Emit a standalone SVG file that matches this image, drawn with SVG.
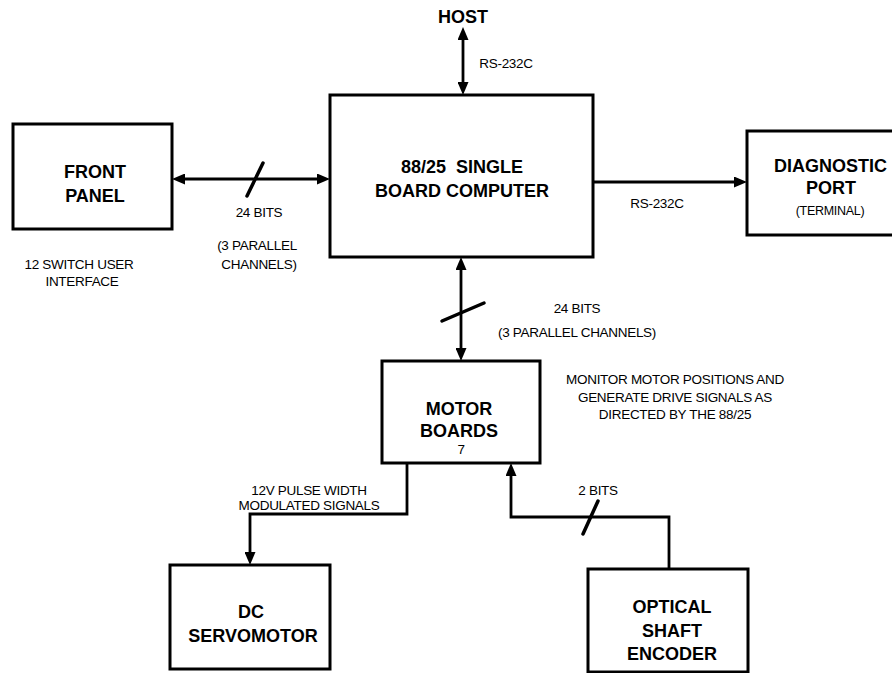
<svg xmlns="http://www.w3.org/2000/svg" width="892" height="673" viewBox="0 0 892 673">
<style>
  .box { fill: #fff; stroke: #000; stroke-width: 3; }
  .conn { fill: none; stroke: #000; stroke-width: 2.8; }
  .slash { fill: none; stroke: #000; stroke-width: 3.5; stroke-linecap: round; }
  .title { font-family: "Liberation Sans", Arial, Helvetica, sans-serif; font-weight: bold; font-size: 18px; fill: #000; text-anchor: middle; }
  .lbl { font-family: "Liberation Sans", Arial, Helvetica, sans-serif; font-size: 13.5px; fill: #000; text-anchor: middle; letter-spacing: -0.3px; }
  .small { font-family: "Liberation Sans", Arial, Helvetica, sans-serif; font-size: 12.5px; fill: #000; text-anchor: middle; letter-spacing: -0.3px; }
</style>
<defs>
  <marker id="arr" markerUnits="userSpaceOnUse" markerWidth="13" markerHeight="11" refX="0" refY="5.5" orient="auto-start-reverse" viewBox="0 0 13 11">
    <path d="M0,0 L13,5.5 L0,11 Z" fill="#000"/>
  </marker>
</defs>
<rect width="892" height="673" fill="#fff"/>

<g id="connectors">
  <line class="conn" x1="463" y1="40" x2="463" y2="82" marker-start="url(#arr)" marker-end="url(#arr)"/>
  <line class="conn" x1="185" y1="179" x2="317" y2="179" marker-start="url(#arr)" marker-end="url(#arr)"/>
  <line class="slash" x1="247" y1="196" x2="263" y2="163"/>
  <line class="conn" x1="593" y1="182" x2="734" y2="182" marker-end="url(#arr)"/>
  <line class="conn" x1="461" y1="270" x2="461" y2="348" marker-start="url(#arr)" marker-end="url(#arr)"/>
  <line class="slash" x1="442" y1="321" x2="484" y2="303"/>
  <path class="conn" d="M407,463 V514 H250 V552" marker-end="url(#arr)"/>
  <path class="conn" d="M669,569 V517 H511 V476" marker-end="url(#arr)"/>
  <line class="slash" x1="583" y1="534" x2="598" y2="501"/>
</g>

<g id="host">
  <text class="title" x="463" y="23" font-size="17">HOST</text>
</g>

<g id="front-panel">
  <rect class="box" x="13" y="124" width="159" height="105"/>
  <text class="title" x="95" y="178">FRONT</text>
  <text class="title" x="95" y="202">PANEL</text>
</g>

<g id="computer">
  <rect class="box" x="330" y="95" width="263" height="162"/>
  <text class="title" x="462" y="173" xml:space="preserve">88/25  SINGLE</text>
  <text class="title" x="462" y="197">BOARD COMPUTER</text>
</g>

<g id="diagnostic">
  <rect class="box" x="747" y="131" width="160" height="104"/>
  <text class="title" x="774" y="172" font-size="19" style="text-anchor:start">DIAGNOSTIC</text>
  <text class="title" x="831" y="194">PORT</text>
  <text class="small" x="830" y="215">(TERMINAL)</text>
</g>

<g id="motor-boards">
  <rect class="box" x="382" y="361" width="158" height="102"/>
  <text class="title" x="459" y="415">MOTOR</text>
  <text class="title" x="459" y="437">BOARDS</text>
  <text class="lbl" x="461" y="454" font-size="9">7</text>
</g>

<g id="servomotor">
  <rect class="box" x="170" y="565" width="160" height="104"/>
  <text class="title" x="251" y="618">DC</text>
  <text class="title" x="253" y="642">SERVOMOTOR</text>
</g>

<g id="encoder">
  <rect class="box" x="588" y="569" width="160" height="103"/>
  <text class="title" x="672" y="613">OPTICAL</text>
  <text class="title" x="672" y="637">SHAFT</text>
  <text class="title" x="672" y="660">ENCODER</text>
</g>

<g id="labels">
  <text class="lbl" x="506" y="68">RS-232C</text>
  <text class="lbl" x="259" y="217">24 BITS</text>
  <text class="lbl" x="257" y="250">(3 PARALLEL</text>
  <text class="lbl" x="259" y="269">CHANNELS)</text>
  <text class="lbl" x="79" y="269">12 SWITCH USER</text>
  <text class="lbl" x="82" y="286">INTERFACE</text>
  <text class="lbl" x="657" y="208">RS-232C</text>
  <text class="lbl" x="577" y="313">24 BITS</text>
  <text class="lbl" x="577" y="337">(3 PARALLEL CHANNELS)</text>
  <text class="lbl" x="675" y="384">MONITOR MOTOR POSITIONS AND</text>
  <text class="lbl" x="675" y="402">GENERATE DRIVE SIGNALS AS</text>
  <text class="lbl" x="675" y="419">DIRECTED BY THE 88/25</text>
  <text class="lbl" x="309" y="495">12V PULSE WIDTH</text>
  <text class="lbl" x="309" y="510">MODULATED SIGNALS</text>
  <text class="lbl" x="598" y="495">2 BITS</text>
</g>
</svg>
